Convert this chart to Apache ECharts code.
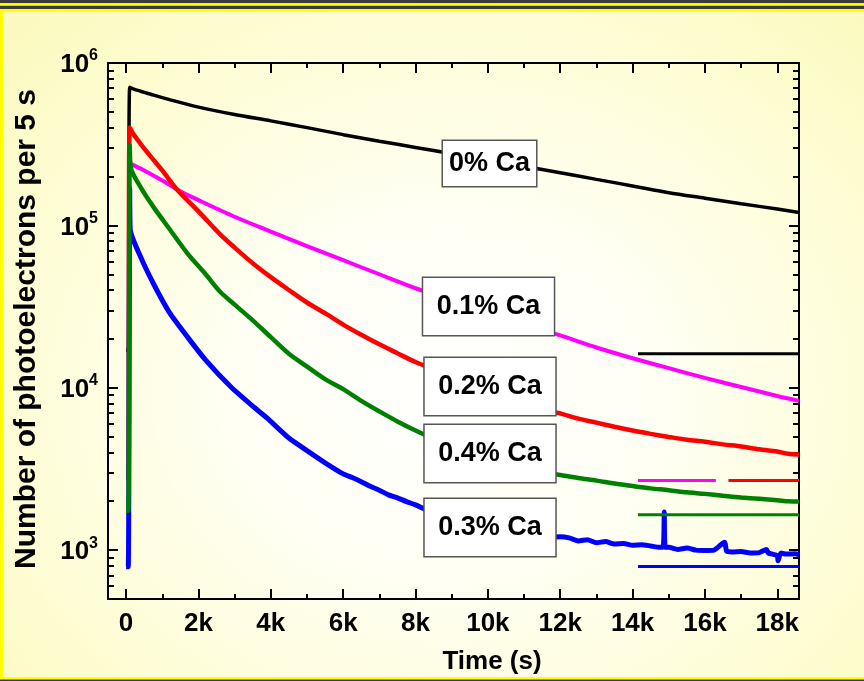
<!DOCTYPE html>
<html>
<head>
<meta charset="utf-8">
<script src="https://cdn.jsdelivr.net/npm/echarts@6/dist/echarts.min.js"></script>
<style>
  html, body { margin: 0; padding: 0; }
  body {
    width: 864px; height: 681px; overflow: hidden;
    background: radial-gradient(ellipse 70% 75% at 52% 58%, #ffffff 0%, #fffff4 35%, #fdfccc 85%, #fbf9c0 100%);
  }
  #chart { width: 864px; height: 681px; }
</style>
</head>
<body>
<div id="chart"></div>
<script>
const FONT = "'Liberation Sans', Arial, sans-serif";

// axis ticks (x in seconds, y in photoelectrons per 5 s)
const xMajor = [0, 2000, 4000, 6000, 8000, 10000, 12000, 14000, 16000, 18000];
const xMinor = [1000, 3000, 5000, 7000, 9000, 11000, 13000, 15000, 17000];
const yMinor = [600, 700, 800, 900,
  2000, 3000, 4000, 5000, 6000, 7000, 8000, 9000,
  20000, 30000, 40000, 50000, 60000, 70000, 80000, 90000,
  200000, 300000, 400000, 500000, 600000, 700000, 800000, 900000];

// 0% Ca
const ca0 = [[0, 17000], [60, 17000], [100, 709000], [300, 680000], [700, 640000], [1200, 595000],
  [2000, 535000], [3000, 482000], [4000, 440000], [5000, 400000], [6000, 362000], [7000, 330000],
  [8000, 302000], [9000, 276000], [10000, 252000], [11000, 231000], [12000, 211000], [13000, 192000],
  [14000, 175000], [15000, 159000], [16000, 147000], [17000, 136000], [18000, 126000], [18600, 120000]];

// 0.1% Ca
const ca01 = [[100, 241000], [500, 218000], [1000, 189000], [1500, 162000], [2000, 143000],
  [3000, 113000], [4000, 91500], [5000, 74500], [6000, 61000], [7000, 50000], [8000, 41000],
  [9000, 34500], [10000, 29000], [11000, 24500], [12000, 21000], [13000, 17700], [14000, 15200],
  [15000, 13200], [16000, 11500], [17000, 10100], [18000, 8900], [18600, 8300]];

// 0.2% Ca
const ca02 = [[0, 2800], [60, 2800], [100, 400000], [200, 365000], [400, 318000], [700, 262000],
  [1000, 218000], [1400, 167000], [2000, 122000], [2600, 88000], [3000, 73000], [3500, 58500],
  [4000, 48000], [4500, 40000], [5000, 33500], [5500, 28800], [6000, 24500], [6500, 21200],
  [7000, 18500], [7500, 16300], [8000, 14400], [8500, 13000], [9000, 11600], [9500, 10500],
  [10000, 9500], [10500, 8700], [11000, 8050], [11500, 7400], [12000, 6950], [12500, 6450],
  [13000, 6100], [13500, 5750], [14000, 5450], [14500, 5200], [15000, 4980], [15500, 4780],
  [16000, 4650], [16500, 4480], [17000, 4350], [17500, 4180], [18000, 4050], [18300, 3920], [18600, 3880]];

// 0.4% Ca
const ca04 = [[0, 1750], [60, 1750], [100, 313000], [130, 228000], [400, 172000], [755, 130000],
  [1200, 95000], [1700, 67000], [2200, 50000], [2600, 39000], [3000, 32500], [3500, 26000],
  [4000, 20500], [4500, 16200], [5000, 13500], [5500, 11300], [6000, 9800], [6500, 8300],
  [7000, 7150], [7500, 6200], [8000, 5450], [8500, 4850], [9000, 4350], [9500, 3950],
  [10000, 3650], [10500, 3400], [11000, 3200], [11500, 3030], [12000, 2900], [12500, 2780],
  [13000, 2680], [13500, 2570], [14000, 2480], [14500, 2400], [15000, 2340], [15500, 2270],
  [16000, 2220], [16500, 2160], [17000, 2110], [17500, 2070], [18000, 2030], [18300, 2000], [18600, 1990]];

// 0.3% Ca
const ca03 = [[0, 790], [60, 790], [100, 169000], [115, 94000], [400, 64000], [750, 44000],
  [1200, 29000], [1700, 20500], [2200, 14800], [2900, 10100], [3500, 7700], [3900, 6500],
  [4500, 4900], [5000, 4100], [5500, 3450], [6000, 2950], [6250, 2800], [6500, 2640], [6750, 2470],
  [7000, 2340], [7250, 2190], [7500, 2100], [7750, 1990], [8000, 1900], [8250, 1790], [8500, 1740],
  [8750, 1660], [9000, 1590], [9250, 1540], [9500, 1490], [9750, 1440], [10000, 1420], [10250, 1360],
  [10500, 1350], [10750, 1340], [11000, 1270], [11250, 1270], [11500, 1270], [11620, 1350],
  [11750, 1200], [12000, 1210], [12250, 1190], [12500, 1140], [12750, 1160], [13000, 1110],
  [13250, 1130], [13500, 1090], [13750, 1100], [14000, 1070], [14250, 1080], [14500, 1060],
  [14750, 1040], [14850, 1050], [14876, 1720], [14900, 1040], [15000, 1040], [15250, 1010],
  [15500, 1030], [15750, 1000], [16000, 995], [16250, 1000], [16540, 1120], [16600, 985],
  [16750, 975], [17000, 980], [17250, 960], [17500, 965], [17700, 1010], [17750, 960],
  [18000, 925], [18020, 860], [18100, 960], [18250, 945], [18500, 950], [18600, 935]];

// background levels drawn as horizontal bars at the right
const bg0 = [[14150, 16200], [18600, 16200]];
const bg01 = [[14150, 2680], [16300, 2680]];
const bg02 = [[16650, 2680], [18600, 2680]];
const bg04 = [[14150, 1650], [18600, 1650]];
const bg03 = [[14150, 793], [18600, 793]];

const labels = ['0% Ca', '0.1% Ca', '0.2% Ca', '0.4% Ca', '0.3% Ca'];

const chart = echarts.init(document.getElementById('chart'), null, { renderer: 'canvas' });

function line(name, data, color, width, z, smooth) {
  return {
    name: name, type: 'line', data: data, showSymbol: false, symbol: 'none',
    smooth: smooth || false,
    lineStyle: { color: color, width: width }, z: z, animation: false
  };
}

const tickStyle = { color: '#000', width: 2 };
const xBase = { type: 'value', min: -500, max: 18600, splitLine: { show: false } };
const yLogBase = { type: 'log', logBase: 10, min: 500, max: 1000000, splitLine: { show: false } };
const yLinBase = { type: 'value', min: Math.log10(500), max: 6, splitLine: { show: false } };
const yMinorLog = yMinor.map(v => Math.log10(v));

function labelBox(text, cx, cy, padH, padV) {
  return {
    type: 'text', x: cx, y: cy, z: 100,
    style: {
      text: text, font: 'bold 27px ' + FONT, fill: '#000',
      align: 'center', verticalAlign: 'middle', lineHeight: 29,
      backgroundColor: '#fff', borderColor: '#555', borderWidth: 1.5,
      padding: [padV, padH]
    }
  };
}

const option = {
  backgroundColor: 'transparent',
  animation: false,
  grid: { left: 108, right: 65, top: 63, bottom: 82 },
  xAxis: [
    Object.assign({}, xBase, {
      position: 'bottom',
      axisLine: { onZero: false, lineStyle: { color: '#000', width: 2 } },
      axisTick: { inside: true, length: 10, lineStyle: tickStyle, customValues: xMajor },
      axisLabel: {
        customValues: xMajor, margin: 12, color: '#000', fontSize: 26, fontWeight: 'bold', fontFamily: FONT,
        formatter: v => (v === 0 ? '0' : (v / 1000) + 'k')
      }
    }),
    Object.assign({}, xBase, {
      position: 'bottom',
      axisLine: { show: false, onZero: false },
      axisTick: { inside: true, length: 5, lineStyle: tickStyle, customValues: xMinor },
      axisLabel: { show: false }
    }),
    Object.assign({}, xBase, {
      position: 'top',
      axisLine: { onZero: false, lineStyle: { color: '#000', width: 2 } },
      axisTick: { inside: true, length: 10, lineStyle: tickStyle, customValues: xMajor },
      axisLabel: { show: false }
    }),
    Object.assign({}, xBase, {
      position: 'top',
      axisLine: { show: false, onZero: false },
      axisTick: { inside: true, length: 5, lineStyle: tickStyle, customValues: xMinor },
      axisLabel: { show: false }
    })
  ],
  yAxis: [
    Object.assign({}, yLogBase, {
      position: 'left',
      axisLine: { onZero: false, lineStyle: { color: '#000', width: 2 } },
      axisTick: { inside: true, length: 10, lineStyle: tickStyle },
      axisLabel: {
        margin: 10, color: '#000',
        formatter: v => {
          const e = Math.log10(v);
          if (Math.abs(e - Math.round(e)) > 1e-6) return '';
          return '{b|10}{s|' + Math.round(e) + '}';
        },
        rich: {
          b: { fontSize: 26, fontWeight: 'bold', fontFamily: FONT, color: '#000', lineHeight: 30, verticalAlign: 'bottom' },
          s: { fontSize: 16, fontWeight: 'bold', fontFamily: FONT, color: '#000', lineHeight: 10, verticalAlign: 'top' }
        }
      }
    }),
    Object.assign({}, yLinBase, {
      position: 'left',
      axisLine: { show: false, onZero: false },
      axisTick: { inside: true, length: 6, lineStyle: tickStyle, customValues: yMinorLog },
      axisLabel: { show: false }
    }),
    Object.assign({}, yLogBase, {
      position: 'right',
      axisLine: { onZero: false, lineStyle: { color: '#000', width: 2 } },
      axisTick: { inside: true, length: 10, lineStyle: tickStyle },
      axisLabel: { show: false }
    }),
    Object.assign({}, yLinBase, {
      position: 'right',
      axisLine: { show: false, onZero: false },
      axisTick: { inside: true, length: 6, lineStyle: tickStyle, customValues: yMinorLog },
      axisLabel: { show: false }
    })
  ],
  series: [
    line('0% Ca', ca0, '#000000', 3.5, 2, 0.3),
    line('0.1% Ca', ca01, '#ff00ff', 4, 3, 0.3),
    line('0.2% Ca', ca02, '#ff0000', 4.5, 4, 0.3),
    line('0.3% Ca', ca03, '#0000ff', 5, 5, 0.2),
    line('0.4% Ca', ca04, '#008000', 4.5, 6, 0.3),
    line('bg 0%', bg0, '#000000', 3, 2),
    line('bg 0.1%', bg01, '#ff00ff', 3, 3),
    line('bg 0.2%', bg02, '#ff0000', 3, 4),
    line('bg 0.4%', bg04, '#008000', 3, 6),
    line('bg 0.3%', bg03, '#0000ff', 3, 5)
  ],
  graphic: [
    // frame
    { type: 'rect', shape: { x: 0, y: 0, width: 864, height: 3.3 }, style: { fill: '#3b3b3b' }, z: 200 },
    { type: 'rect', shape: { x: 0, y: 3.3, width: 864, height: 2.4 }, style: { fill: '#ffff00' }, z: 200 },
    { type: 'rect', shape: { x: 0, y: 5.7, width: 864, height: 3.3 }, style: { fill: '#3b3b3b' }, z: 200 },
    { type: 'rect', shape: { x: 0, y: 9, width: 864, height: 2.7 }, style: { fill: '#ffff00' }, z: 200 },
    { type: 'rect', shape: { x: 0, y: 9, width: 3, height: 670 }, style: { fill: '#ffff00' }, z: 200 },
    { type: 'rect', shape: { x: 0, y: 677, width: 864, height: 2.5 }, style: { fill: '#ffff00' }, z: 200 },
    { type: 'rect', shape: { x: 0, y: 679.5, width: 864, height: 1.5 }, style: { fill: '#3b3b3b' }, z: 200 },
    // axis titles
    {
      type: 'text', x: 27, y: 329, rotation: Math.PI / 2, z: 100,
      style: { text: 'Number of photoelectrons per 5 s', font: 'bold 30px ' + FONT, fill: '#000', align: 'center', verticalAlign: 'middle' }
    },
    {
      type: 'text', x: 492, y: 662, z: 100,
      style: { text: 'Time (s)', font: 'bold 26px ' + FONT, fill: '#000', align: 'center', verticalAlign: 'middle' }
    },
    // curve labels
    labelBox(labels[0], 489.5, 163.5, 6, 8),
    labelBox(labels[1], 488.5, 306.5, 13.5, 14),
    labelBox(labels[2], 490, 386.5, 13.5, 14),
    labelBox(labels[3], 490, 453.5, 13.5, 14),
    labelBox(labels[4], 490, 527.5, 13.5, 14)
  ]
};

chart.setOption(option);
</script>
</body>
</html>
